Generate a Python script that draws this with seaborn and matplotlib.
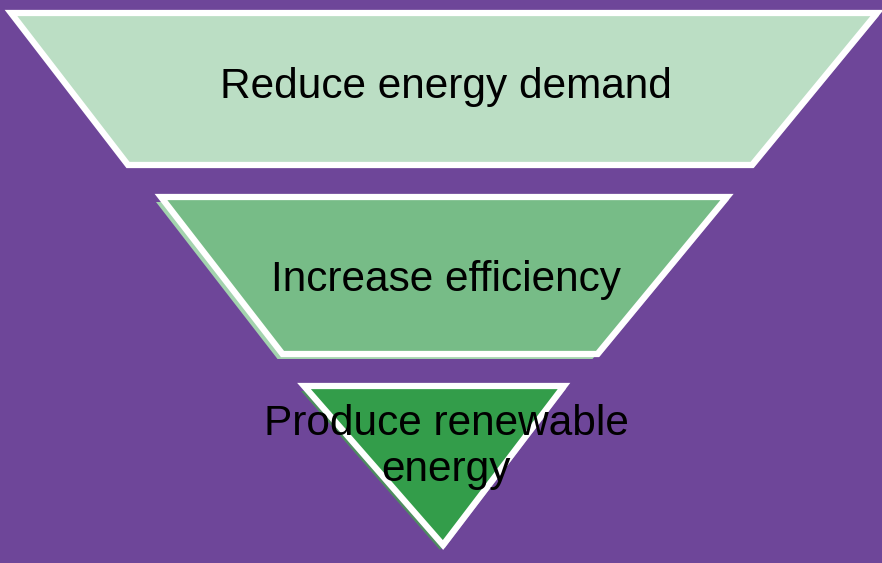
import matplotlib
matplotlib.use("Agg")
import matplotlib.pyplot as plt
import seaborn as sns
import numpy as np

# ---- data ----
stages = ["Reduce energy demand", "Increase efficiency", "Produce renewable\nenergy"]
top_widths = [866, 566, 260]
bottom_widths = [624, 315, 0]
fills = ["#BBDEC4", "#77BC87", "#339D4A"]
shades = ["#5E5E86", "#A3D3AE", "#4E8C60"]

sns.set_theme(style="white")
plt.rcParams['font.family'] = ['Liberation Sans', 'DejaVu Sans']

BG = "#6E4699"
fig = plt.figure(figsize=(8.82, 5.63), dpi=100, facecolor=BG)
ax = fig.add_axes([0, 0, 1, 1])
ax.set_facecolor(BG)
ax.set_xlim(0, 882)
ax.set_ylim(563, 0)
ax.axis("off")

top_cx = [444, 444, 434]
bot_cx = [440, 440, 443]
tops = [13, 197, 386]
bottoms = [165, 354, 545]
text_y = [87, 280, 447]
offsets = [(-3, -3), (-5, 5), (-3, 5)]

for i, lab in enumerate(stages):
    tw, bw = top_widths[i], bottom_widths[i]
    t, b = tops[i], bottoms[i]
    xs = [top_cx[i] - tw / 2, top_cx[i] + tw / 2, bot_cx[i] + bw / 2, bot_cx[i] - bw / 2]
    ys = [t, t, b, b]
    dx, dy = offsets[i]
    ax.fill([x + dx for x in xs], [y + dy for y in ys], color=shades[i], lw=0, zorder=1)
    ax.fill(xs, ys, facecolor=fills[i], edgecolor="white", lw=4.5, joinstyle="miter", zorder=2)
    ax.fill([x + 1.5 for x in xs], [y + 2 for y in ys], facecolor="none",
            edgecolor="white", lw=1.2, alpha=0.7, zorder=3)
    ax.text(446, text_y[i], lab, ha="center", va="center", fontsize=30.5,
            color="black", linespacing=1.22, zorder=5)

fig.savefig("out.png", dpi=100, facecolor=BG)
